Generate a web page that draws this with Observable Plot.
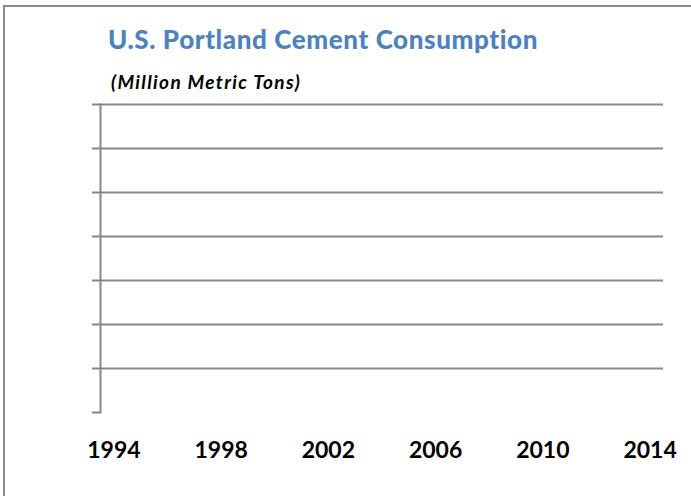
<!DOCTYPE html>
<html>
<head>
<meta charset="utf-8">
<script src="https://cdn.jsdelivr.net/npm/d3@7"></script>
<script src="https://cdn.jsdelivr.net/npm/@observablehq/plot@0.6"></script>
<style>
  html, body { margin: 0; padding: 0; background: #fff; }
  #wrap { position: relative; width: 691px; height: 496px; overflow: hidden; font-family: Lato, "Open Sans", sans-serif; }
  #border { position: absolute; left: 3px; top: 5px; width: 720px; height: 520px; border-left: 2px solid #8a8a8a; border-top: 2px solid #8a8a8a; }
  #title { position: absolute; left: 108px; top: 23px; font-weight: 900; font-size: 26px; color: #4F81BD; white-space: nowrap; letter-spacing: 0.6px; }
  #subtitle { position: absolute; left: 111px; top: 70px; font-weight: bold; font-style: italic; font-size: 19px; color: #000; white-space: nowrap; letter-spacing: 1.35px; }
  #chart { position: absolute; left: 0; top: 0; }
</style>
</head>
<body>
<div id="wrap">
  <div id="border"></div>
  <div id="chart"></div>
  <div id="title">U.S. Portland Cement Consumption</div>
  <div id="subtitle">(Million Metric Tons)</div>
</div>
<script>
// Category axis: one band per year
const years = [1994, 1995, 1996, 1997, 1998, 1999, 2000, 2001, 2002, 2003, 2004,
               2005, 2006, 2007, 2008, 2009, 2010, 2011, 2012, 2013, 2014];
// Labelled years on the x axis
const xTickYears = [1994, 1998, 2002, 2006, 2010, 2014];
// Value axis ticks (unlabelled in the original)
const yTicks = [0, 20, 40, 60, 80, 100, 120, 140];
// Consumption series: the reference chart shows no plotted values
const consumption = [];

const gridColor = "#878787";

const chart = Plot.plot({
  width: 691,
  height: 496,
  marginLeft: 100,
  marginRight: 28,
  marginTop: 104,
  marginBottom: 84,
  style: { background: "transparent", fontFamily: "Lato, 'Open Sans', sans-serif" },
  x: { type: "band", domain: years, padding: 0, round: false },
  y: { domain: [yTicks[0], yTicks[yTicks.length - 1]] },
  marks: [
    Plot.gridY(yTicks.slice(1), { stroke: gridColor, strokeOpacity: 1, strokeWidth: 2 }),
    Plot.axisY(yTicks, { tickSize: 8, stroke: gridColor, strokeWidth: 2, tickFormat: () => "", label: null }),
    Plot.frame({ anchor: "left", stroke: gridColor, strokeWidth: 2 }),
    Plot.axisX(xTickYears, {
      tickSize: 0, tickPadding: 29, fontSize: 23, fontWeight: "bold", fill: "#000",
      tickFormat: d => String(d), label: null
    }),
    Plot.lineY(consumption, { x: "year", y: "value", stroke: "#4F81BD", strokeWidth: 2 })
  ]
});
document.getElementById("chart").appendChild(chart);
</script>
</body>
</html>
